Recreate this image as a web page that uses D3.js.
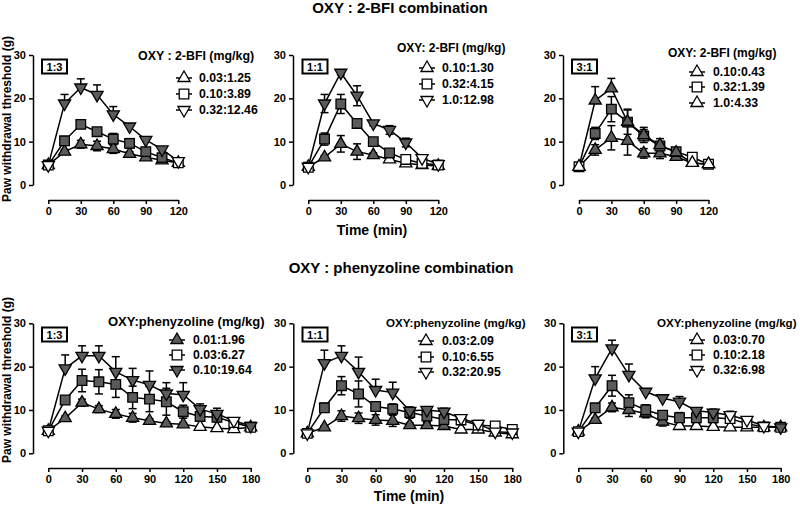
<!DOCTYPE html>
<html><head><meta charset="utf-8">
<script src="https://cdn.jsdelivr.net/npm/d3@7"></script>
<style>
body{margin:0;background:#fff;}
text{font-family:"Liberation Sans",Arial,sans-serif;font-weight:bold;fill:#000;}
</style></head><body>
<script>
// ---------- data ----------
const t120 = [0,15,30,45,60,75,90,105,120];
const t180 = [0,15,30,45,60,75,90,105,120,135,150,165,180];
const xTicks120 = [0,30,60,90,120];
const xTicks180 = [0,30,60,90,120,150,180];
const yTicks = [0,10,20,30];

const topTitle = "OXY : 2-BFI combination";
const bottomTitle = "OXY : phenyzoline combination";
const xLabel = "Time (min)";
const yLabel = "Paw withdrawal threshold (g)";

// Panel 1: 1:3 (2-BFI)
const p1Ratio = "1:3";
const p1LegendTitle = "OXY : 2-BFI (mg/kg)";
const p1Labels = ["0.03:1.25","0.10:3.89","0.32:12.46"];
const p1Shapes = ["up","square","down"];
const p1Values = [
  [4.6,7.7,9.4,9.0,8.3,7.2,6.4,5.7,5.1],
  [4.6,10.2,14.0,12.3,10.6,9.6,7.7,6.3,5.1],
  [4.6,18.8,22.5,20.8,16.3,13.5,10.4,8.2,5.5]];
const p1Errors = [
  [0,0.5,0.9,1.1,1.0,0.5,0.4,0.3,0.2],
  [0,0.6,0.8,0.9,1.3,1.1,0.5,0.4,0.2],
  [0,2.1,2.0,2.3,1.8,0.4,0.4,0.6,0.2]];
const p1Filled = [
  [0,1,1,1,1,1,1,0,0],
  [0,1,1,1,1,1,1,1,0],
  [0,1,1,1,1,1,1,1,0]];

// Panel 2: 1:1 (2-BFI)
const p2Ratio = "1:1";
const p2LegendTitle = "OXY: 2-BFI (mg/kg)";
const p2Labels = ["0.10:1.30","0.32:4.15","1.0:12.98"];
const p2Shapes = ["up","square","down"];
const p2Values = [
  [4.2,6.4,9.5,7.7,6.9,5.9,5.0,4.6,4.4],
  [4.1,10.6,18.7,14.2,10.0,7.4,5.9,5.0,4.6],
  [4.2,18.8,25.9,20.6,14.2,12.7,9.8,6.2,4.8]];
const p2Errors = [
  [0,0.4,1.9,1.8,0.5,0.4,0.3,0.2,0.2],
  [0,1.4,2.2,0.5,0.8,0.5,0.3,0.2,0.2],
  [0,2.1,0.5,2.3,0.5,1.0,1.0,0.4,0.3]];
const p2Filled = [
  [0,1,1,1,1,0,0,0,0],
  [0,1,1,1,1,1,0,0,0],
  [0,1,1,1,1,1,1,0,0]];

// Panel 3: 3:1 (2-BFI)
const p3Ratio = "3:1";
const p3LegendTitle = "OXY: 2-BFI (mg/kg)";
const p3Labels = ["0.10:0.43","0.32:1.39","1.0:4.33"];
const p3Shapes = ["up","square","up"];
const p3Values = [
  [4.2,8.1,10.9,10.2,7.3,7.3,6.5,5.1,4.8],
  [4.2,11.9,17.5,14.5,11.3,9.0,7.7,6.4,4.8],
  [4.2,19.5,22.3,14.6,11.5,9.2,7.5,5.1,4.8]];
const p3Errors = [
  [0,1.2,2.8,3.3,1.1,1.2,0.4,0.3,0.2],
  [0,1.4,2.9,2.8,1.5,1.0,0.5,0.3,0.2],
  [0,3.2,2.3,2.9,1.8,1.5,0.5,0.3,0.2]];
const p3Filled = [
  [0,1,1,1,1,1,1,0,0],
  [0,1,1,1,1,1,1,0,0],
  [0,1,1,1,1,1,1,0,0]];

// Panel 4: 1:3 (phenyzoline)
const p4Ratio = "1:3";
const p4LegendTitle = "OXY:phenyzoline (mg/kg)";
const p4Labels = ["0.01:1.96","0.03:6.27","0.10:19.64"];
const p4Shapes = ["up","square","down"];
const p4Values = [
  [5.2,8.1,11.7,10.2,9.1,8.2,7.5,6.9,6.7,6.1,5.8,5.6,6.0],
  [5.2,12.3,16.8,16.5,15.9,12.9,12.5,11.9,9.6,8.5,8.3,7.1,6.0],
  [5.2,19.6,22.5,22.5,18.8,16.9,15.8,13.8,13.5,10.2,9.1,7.5,6.3]];
const p4Errors = [
  [0,0.5,0.8,0.8,1.0,1.0,0.5,0.4,0.4,0.3,0.3,0.2,0.2],
  [0,0.8,2.6,2.8,3.0,2.6,2.9,3.1,1.5,1.0,1.0,0.4,0.3],
  [0,3.1,2.3,2.3,3.5,2.7,3.2,2.5,2.8,1.2,1.3,0.4,0.3]];
const p4Filled = [
  [0,1,1,1,1,1,1,1,1,0,0,0,0],
  [0,1,1,1,1,1,1,1,1,1,1,0,0],
  [0,1,1,1,1,1,1,1,1,1,1,0,1]];

// Panel 5: 1:1 (phenyzoline)
const p5Ratio = "1:1";
const p5LegendTitle = "OXY:phenyzoline (mg/kg)";
const p5Labels = ["0.03:2.09","0.10:6.55","0.32:20.95"];
const p5Shapes = ["up","square","down"];
const p5Values = [
  [4.6,6.0,8.6,8.1,7.7,7.5,6.5,6.5,6.3,5.5,5.5,4.8,4.4],
  [4.6,10.5,15.6,13.7,10.8,10.2,9.4,8.6,7.8,7.7,6.5,6.3,5.5],
  [4.6,20.8,22.5,18.8,14.6,14.0,9.8,10.0,9.6,8.1,6.8,5.0,4.8]];
const p5Errors = [
  [0,0.3,1.2,1.2,1.2,1.3,0.5,0.6,0.6,0.3,0.3,0.2,0.2],
  [0,1.0,2.1,3.0,1.0,1.2,1.3,1.2,1.2,1.0,0.4,0.3,0.2],
  [0,3.0,2.3,3.4,2.5,2.4,0.5,0.7,0.8,0.8,0.3,0.3,0.2]];
const p5Filled = [
  [0,1,1,1,1,1,1,1,1,0,0,0,0],
  [0,1,1,1,1,1,1,1,1,0,0,0,0],
  [0,1,1,1,1,1,1,1,1,0,0,0,0]];

// Panel 6: 3:1 (phenyzoline)
const p6Ratio = "3:1";
const p6LegendTitle = "OXY:phenyzoline (mg/kg)";
const p6Labels = ["0.03:0.70","0.10:2.18","0.32:6.98"];
const p6Shapes = ["up","square","down"];
const p6Values = [
  [5.0,7.7,10.6,10.0,9.2,7.3,6.3,6.3,6.1,6.0,6.0,6.0,6.0],
  [5.0,10.5,15.6,11.7,10.0,8.8,8.2,8.2,8.2,8.0,6.8,6.1,6.0],
  [5.0,17.3,24.2,18.1,14.2,12.7,11.9,9.8,9.4,8.8,7.7,6.3,6.0]];
const p6Errors = [
  [0,0.4,1.0,1.5,1.0,1.0,0.4,0.3,0.3,0.2,0.2,0.2,0.2],
  [0,0.6,2.4,1.8,1.2,1.0,1.2,1.3,1.2,1.0,0.4,0.3,0.2],
  [0,2.7,1.9,2.5,0.4,0.6,1.2,0.5,0.8,0.9,0.4,0.3,0.2]];
const p6Filled = [
  [0,1,1,1,1,1,0,0,0,0,0,0,0],
  [0,1,1,1,1,1,1,1,1,0,0,0,0],
  [0,1,1,1,1,1,1,1,1,0,0,0,1]];

// ---------- drawing ----------
const W = 800, H = 505;
const GRAY = "#5b5b5b";
const svg = d3.select("body").append("svg").attr("width", W).attr("height", H);

function symPath(shape){
  if (shape === "square") return d3.symbol(d3.symbolSquare, 92)();
  return d3.symbol(d3.symbolTriangle, 64)();
}
function symTransform(shape, x, y){
  return `translate(${x},${y})` + (shape === "down" ? " rotate(180)" : "");
}

function drawPanel(cfg, d){
  const g = svg.append("g");
  const x = d3.scaleLinear().domain([0, cfg.xMax]).range([cfg.x0, cfg.x1]);
  const y = d3.scaleLinear().domain([0, 30]).range([cfg.yBot, cfg.yTop]);

  const ya = g.append("g").attr("transform", `translate(${cfg.yAxisX},0)`)
    .call(d3.axisLeft(y).tickValues(yTicks).tickSize(4).tickSizeOuter(0).tickPadding(3));
  ya.select(".domain").attr("stroke-width", 1.5);
  ya.selectAll(".tick line").attr("stroke-width", 1.5);
  ya.selectAll("text").attr("font-size", 11).style("font-family", '"Liberation Sans",Arial,sans-serif').style("font-weight","bold");

  const xa = g.append("g").attr("transform", `translate(0,${cfg.xAxisY})`)
    .call(d3.axisBottom(x).tickValues(cfg.xTicks).tickSize(4).tickSizeOuter(0).tickPadding(3));
  xa.select(".domain").attr("stroke-width", 1.5);
  xa.selectAll(".tick line").attr("stroke-width", 1.5);
  xa.selectAll("text").attr("font-size", 11).style("font-family", '"Liberation Sans",Arial,sans-serif').style("font-weight","bold");

  const line = d3.line().x((v,i)=>x(cfg.times[i])).y(v=>y(v));

  d.values.forEach((vals, s) => {
    const errs = d.errors[s];
    const dir = cfg.errDir[s];
    vals.forEach((v, i) => {
      const e = errs[i];
      if (e <= 0.25) return;
      const cx = x(cfg.times[i]);
      const top = y(v + e), bot = dir === "up" ? y(v) : y(v - e);
      g.append("line").attr("x1",cx).attr("x2",cx).attr("y1",top).attr("y2",bot)
        .attr("stroke","#000").attr("stroke-width",1.5);
      g.append("line").attr("x1",cx-4).attr("x2",cx+4).attr("y1",top).attr("y2",top)
        .attr("stroke","#000").attr("stroke-width",1.5);
      if (dir !== "up")
        g.append("line").attr("x1",cx-4).attr("x2",cx+4).attr("y1",bot).attr("y2",bot)
          .attr("stroke","#000").attr("stroke-width",1.5);
    });
    g.append("path").attr("d", line(vals)).attr("fill","none")
      .attr("stroke","#000").attr("stroke-width",1.5);
  });
  d.values.forEach((vals, s) => {
    const shape = d.shapes[s];
    vals.forEach((v, i) => {
      g.append("path").attr("d", symPath(shape))
        .attr("transform", symTransform(shape, x(cfg.times[i]), y(v)))
        .attr("fill", d.filled[s][i] ? GRAY : "#fff")
        .attr("stroke","#000").attr("stroke-width",1.3);
    });
  });

  g.append("rect").attr("x",cfg.box[0]).attr("y",cfg.box[1]).attr("width",25).attr("height",14)
    .attr("fill","#fff").attr("stroke","#000").attr("stroke-width",2);
  g.append("text").attr("x",cfg.box[0]+12.5).attr("y",cfg.box[1]+7.5)
    .attr("text-anchor","middle").attr("dominant-baseline","central")
    .attr("font-size",11).text(d.ratio);

  g.append("text").attr("x",cfg.leg.titleX).attr("y",cfg.leg.titleY)
    .attr("dominant-baseline","central").attr("font-size",cfg.leg.titleSize).text(d.legendTitle);
  d.labels.forEach((lab, s) => {
    const ry = cfg.leg.rows[s];
    const mx = cfg.leg.markerX;
    g.append("line").attr("x1",mx-8).attr("x2",mx+8).attr("y1",ry).attr("y2",ry)
      .attr("stroke","#000").attr("stroke-width",1.5);
    g.append("path").attr("d", symPath(d.shapes[s]))
      .attr("transform", symTransform(d.shapes[s], mx, ry))
      .attr("fill", cfg.leg.filledTri && d.shapes[s] !== "square" ? GRAY : "#fff")
      .attr("stroke","#000").attr("stroke-width",1.3);
    g.append("text").attr("x",cfg.leg.textX).attr("y",ry)
      .attr("dominant-baseline","central").attr("font-size",12.3).text(lab);
  });
}

const topRow = {xMax:120, times:t120, xTicks:xTicks120, yTop:55, yBot:185, xAxisY:200};
const botRow = {xMax:180, times:t180, xTicks:xTicks180, yTop:323.3, yBot:453.3, xAxisY:468};

drawPanel(Object.assign({}, topRow, {x0:48.3, x1:178.3, yAxisX:33, box:[42,59.5],
  errDir:["both","both","up"],
  leg:{titleX:138, titleY:56, titleSize:12.4, rows:[78,94,110], markerX:184, textX:199}}),
  {ratio:p1Ratio, legendTitle:p1LegendTitle, labels:p1Labels, shapes:p1Shapes, values:p1Values, errors:p1Errors, filled:p1Filled});
drawPanel(Object.assign({}, topRow, {x0:308.3, x1:438.3, yAxisX:293, box:[302.5,59.5],
  errDir:["both","both","both"],
  leg:{titleX:397, titleY:48, titleSize:12, rows:[68,84,100], markerX:427, textX:442}}),
  {ratio:p2Ratio, legendTitle:p2LegendTitle, labels:p2Labels, shapes:p2Shapes, values:p2Values, errors:p2Errors, filled:p2Filled});
drawPanel(Object.assign({}, topRow, {x0:579, x1:708.5, yAxisX:563, box:[572,59.5],
  errDir:["both","both","up"],
  leg:{titleX:668, titleY:53, titleSize:12, rows:[72,87,103], markerX:697, textX:713}}),
  {ratio:p3Ratio, legendTitle:p3LegendTitle, labels:p3Labels, shapes:p3Shapes, values:p3Values, errors:p3Errors, filled:p3Filled});
drawPanel(Object.assign({}, botRow, {x0:48.3, x1:250.7, yAxisX:33, box:[42,327.5],
  errDir:["both","both","up"],
  leg:{titleX:108, titleY:321, titleSize:13, rows:[340,355,370], markerX:177, textX:193, filledTri:true}}),
  {ratio:p4Ratio, legendTitle:p4LegendTitle, labels:p4Labels, shapes:p4Shapes, values:p4Values, errors:p4Errors, filled:p4Filled});
drawPanel(Object.assign({}, botRow, {x0:307.3, x1:512.3, yAxisX:293.3, box:[302.5,327.5],
  errDir:["both","both","up"],
  leg:{titleX:386, titleY:322, titleSize:11.6, rows:[341,357,372], markerX:426, textX:442}}),
  {ratio:p5Ratio, legendTitle:p5LegendTitle, labels:p5Labels, shapes:p5Shapes, values:p5Values, errors:p5Errors, filled:p5Filled});
drawPanel(Object.assign({}, botRow, {x0:578.3, x1:780.7, yAxisX:563.3, box:[572,327.5],
  errDir:["both","both","up"],
  leg:{titleX:657, titleY:322, titleSize:11.6, rows:[340,355,370], markerX:697, textX:713}}),
  {ratio:p6Ratio, legendTitle:p6LegendTitle, labels:p6Labels, shapes:p6Shapes, values:p6Values, errors:p6Errors, filled:p6Filled});

svg.append("text").attr("x",400).attr("y",13).attr("text-anchor","middle").attr("font-size",15).text(topTitle);
svg.append("text").attr("x",401).attr("y",273).attr("text-anchor","middle").attr("font-size",15).text(bottomTitle);
svg.append("text").attr("x",372).attr("y",235).attr("text-anchor","middle").attr("font-size",14).text(xLabel);
svg.append("text").attr("x",409).attr("y",501).attr("text-anchor","middle").attr("font-size",14).text(xLabel);
svg.append("text").attr("transform","translate(11,119) rotate(-90)").attr("text-anchor","middle").attr("font-size",12).text(yLabel);
svg.append("text").attr("transform","translate(11,380) rotate(-90)").attr("text-anchor","middle").attr("font-size",12).text(yLabel);
</script>
</body></html>
